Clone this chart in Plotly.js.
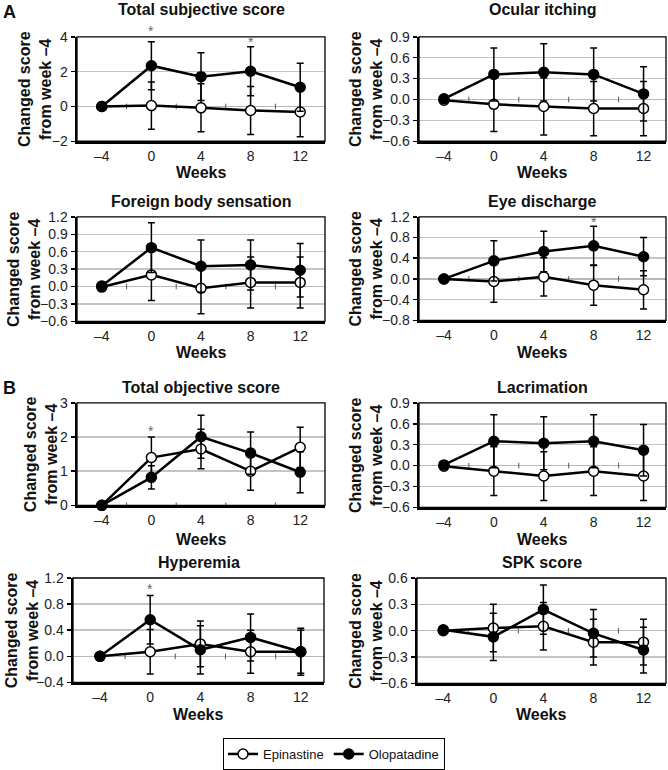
<!DOCTYPE html>
<html>
<head>
<meta charset="utf-8">
<script src="https://cdn.plot.ly/plotly-3.0.1.min.js"></script>
<style>
  html, body { margin: 0; padding: 0; background: #fff; }
  #chart { width: 668px; height: 770px; }
</style>
</head>
<body>
<div id="chart"></div>
<script>
// Weeks on the x axis (shared by all panels)
const weeks = [-4, 0, 4, 8, 12];
const weekLabels = ["\u20134", "0", "4", "8", "12"];

// Mean change from week -4 and error bars
const subjEpi = [0, 0.05, -0.08, -0.23, -0.32];
const subjEpiErr = [0, 1.36, 1.38, 1.38, 1.42];
const subjOlo = [0, 2.34, 1.71, 2.02, 1.10];
const subjOloErr = [0, 1.38, 1.37, 1.41, 1.38];

const itchEpi = [-0.01, -0.07, -0.10, -0.13, -0.13];
const itchEpiErr = [0, 0.39, 0.41, 0.39, 0.39];
const itchOlo = [0.01, 0.36, 0.39, 0.36, 0.08];
const itchOloErr = [0, 0.38, 0.41, 0.38, 0.39];

const foreignEpi = [-0.01, 0.20, -0.03, 0.07, 0.07];
const foreignEpiErr = [0, 0.44, 0.44, 0.44, 0.44];
const foreignOlo = [0.01, 0.67, 0.35, 0.37, 0.28];
const foreignOloErr = [0, 0.43, 0.45, 0.43, 0.46];

const dischEpi = [0, -0.05, 0.04, -0.12, -0.21];
const dischEpiErr = [0, 0.40, 0.37, 0.39, 0.37];
const dischOlo = [0, 0.35, 0.53, 0.64, 0.43];
const dischOloErr = [0, 0.39, 0.39, 0.38, 0.37];

const objEpi = [0, 1.40, 1.65, 1.00, 1.70];
const objEpiErr = [0, 0.60, 0.58, 0.56, 0.59];
const objOlo = [0, 0.82, 2.01, 1.53, 0.97];
const objOloErr = [0, 0.34, 0.63, 0.62, 0.60];

const lacrEpi = [-0.01, -0.08, -0.15, -0.08, -0.15];
const lacrEpiErr = [0, 0.35, 0.35, 0.35, 0.35];
const lacrOlo = [0.01, 0.35, 0.32, 0.35, 0.22];
const lacrOloErr = [0, 0.38, 0.38, 0.38, 0.37];

const hypEpi = [0, 0.07, 0.19, 0.07, 0.07];
const hypEpiErr = [0, 0.34, 0.35, 0.33, 0.33];
const hypOlo = [0, 0.56, 0.10, 0.29, 0.07];
const hypOloErr = [0, 0.37, 0.37, 0.36, 0.36];

const spkEpi = [0, 0.03, 0.05, -0.13, -0.13];
const spkEpiErr = [0, 0.27, 0.27, 0.26, 0.26];
const spkOlo = [0.01, -0.07, 0.24, -0.03, -0.22];
const spkOloErr = [0, 0.27, 0.28, 0.27, 0.26];

// weeks marked with * (significant difference)
const subjSig = [0, 8];
const dischSig = [8];
const objSig = [0];
const hypSig = [0];

const W = 668, H = 770;
const FONT = "Liberation Sans, Arial, sans-serif";

// pixel boxes of each plot area, plus text positions
const panels = [
  { title: "Total subjective score", epi: subjEpi, epiErr: subjEpiErr, olo: subjOlo, oloErr: subjOloErr, sig: subjSig, lift: [11, 4.5],
    box: [77, 325, 37, 142], xr: [-6, 14], yr: [-2, 4], dt: 2, fmt: "d", titleY: 10, weeksY: 173, ytX: 35 },
  { title: "Ocular itching", epi: itchEpi, epiErr: itchEpiErr, olo: itchOlo, oloErr: itchOloErr, sig: [], lift: [],
    box: [419, 666, 37, 142], xr: [-6, 13.8], yr: [-0.6, 0.9], dt: 0.3, fmt: ".1f", titleY: 10, weeksY: 173, ytX: 366 },
  { title: "Foreign body sensation", epi: foreignEpi, epiErr: foreignEpiErr, olo: foreignOlo, oloErr: foreignOloErr, sig: [], lift: [],
    box: [77, 325, 218, 323], xr: [-6, 14], yr: [-0.6, 1.2], dt: 0.3, fmt: ".1f", titleY: 203, weeksY: 354, ytX: 24 },
  { title: "Eye discharge", epi: dischEpi, epiErr: dischEpiErr, olo: dischOlo, oloErr: dischOloErr, sig: dischSig, lift: [4],
    box: [419, 666, 218, 322], xr: [-6, 13.8], yr: [-0.8, 1.2], dt: 0.4, fmt: ".1f", titleY: 203, weeksY: 354, ytX: 366 },
  { title: "Total objective score", epi: objEpi, epiErr: objEpiErr, olo: objOlo, oloErr: objOloErr, sig: objSig, lift: [6],
    box: [77, 325, 405, 508], xr: [-6, 14], yr: [0, 3], dt: 1, fmt: "d", titleY: 390, weeksY: 542, ytX: 41 },
  { title: "Lacrimation", epi: lacrEpi, epiErr: lacrEpiErr, olo: lacrOlo, oloErr: lacrOloErr, sig: [], lift: [],
    box: [419, 666, 405, 510], xr: [-6, 13.8], yr: [-0.6, 0.9], dt: 0.3, fmt: ".1f", titleY: 390, weeksY: 542, ytX: 366 },
  { title: "Hyperemia", epi: hypEpi, epiErr: hypEpiErr, olo: hypOlo, oloErr: hypOloErr, sig: hypSig, lift: [6.5],
    box: [73, 324, 581, 686], xr: [-6.15, 13.85], yr: [-0.4, 1.2], dt: 0.4, fmt: ".1f", titleY: 565, weeksY: 718, ytX: 22 },
  { title: "SPK score", epi: spkEpi, epiErr: spkEpiErr, olo: spkOlo, oloErr: spkOloErr, sig: [], lift: [],
    box: [417, 666, 581, 687], xr: [-6.1, 13.8], yr: [-0.6, 0.6], dt: 0.3, fmt: ".1f", titleY: 565, weeksY: 718, ytX: 366 }
];

// tick marks between categories on the zero line
const midWeeks = weeks.slice(0, -1).map((w, i) => (w + weeks[i + 1]) / 2);

const traces = [];
const annotations = [];
const shapes = [];
const layout = {
  width: W, height: H,
  margin: { l: 0, r: 0, t: 0, b: 0 },
  paper_bgcolor: "#fff", plot_bgcolor: "#fff",
  font: { family: FONT, color: "#111", size: 14 },
  showlegend: true,
  legend: {
    orientation: "h", x: 0.5, xanchor: "center", y: 1 - 758 / H, yanchor: "middle",
    bordercolor: "#000", borderwidth: 1, bgcolor: "#fff",
    font: { family: FONT, size: 13, color: "#111" },
    itemwidth: 30, tracegroupgap: 0
  },
  annotations: annotations,
  shapes: shapes
};

panels.forEach((p, i) => {
  const n = i === 0 ? "" : String(i + 1);
  const xa = "x" + n, ya = "y" + n;
  const [l, r, t, b] = p.box;

  layout["xaxis" + n] = {
    domain: [l / W, r / W], range: p.xr, anchor: ya,
    tickvals: weeks, ticktext: weekLabels, ticks: "",
    showgrid: false, zeroline: false,
    showline: true, linecolor: "#000", linewidth: 2.5,
    tickfont: { family: FONT, size: 14, color: "#222" }, fixedrange: true
  };
  layout["yaxis" + n] = {
    domain: [1 - b / H, 1 - t / H], range: p.yr, anchor: xa,
    dtick: p.dt, tick0: 0, tickformat: p.fmt,
    ticks: "outside", ticklen: 4, tickwidth: 1.5, tickcolor: "#000",
    showgrid: true, gridcolor: "#c4c4c4", gridwidth: 1.5,
    zeroline: true, zerolinecolor: "#b8b8b8", zerolinewidth: 1.5,
    showline: true, linecolor: "#000", linewidth: 2.5,
    tickfont: { family: FONT, size: 14, color: "#222" }, fixedrange: true
  };

  // thin border on top and right
  shapes.push({
    type: "rect", xref: xa + " domain", yref: ya + " domain",
    x0: 0, x1: 1, y0: 0, y1: 1, line: { color: "#000", width: 1.3 }, layer: "above"
  });

  traces.push({
    x: midWeeks, y: midWeeks.map(() => 0), xaxis: xa, yaxis: ya,
    type: "scatter", mode: "markers", showlegend: false, hoverinfo: "skip",
    marker: { symbol: "line-ns", size: 4, line: { color: "#555", width: 1 } }
  });

  const common = {
    x: weeks, xaxis: xa, yaxis: ya, type: "scatter", mode: "lines+markers",
    line: { color: "#000", width: 2.5 }, cliponaxis: false, hoverinfo: "skip"
  };
  traces.push(Object.assign({}, common, {
    name: "Epinastine", y: p.epi, legendgroup: "epi", showlegend: i === 0,
    error_y: { type: "data", array: p.epiErr, visible: true, color: "#000", thickness: 1.5, width: 3.5 },
    marker: { symbol: "circle", size: 10, color: "#fff", line: { color: "#000", width: 1.5 } }
  }));
  traces.push(Object.assign({}, common, {
    name: "Olopatadine", y: p.olo, legendgroup: "olo", showlegend: i === 0,
    error_y: { type: "data", array: p.oloErr, visible: true, color: "#000", thickness: 1.5, width: 3.5 },
    marker: { symbol: "circle", size: 10, color: "#000", line: { color: "#000", width: 1.5 } }
  }));

  const cx = (l + r) / 2 / W;
  annotations.push({
    xref: "paper", yref: "paper", x: cx, y: 1 - p.titleY / H,
    text: "<b>" + p.title + "</b>", showarrow: false, xanchor: "center", yanchor: "middle",
    font: { family: FONT, size: 16, color: "#111" }
  });
  annotations.push({
    xref: "paper", yref: "paper", x: cx, y: 1 - p.weeksY / H,
    text: "<b>Weeks</b>", showarrow: false, xanchor: "center", yanchor: "middle",
    font: { family: FONT, size: 16, color: "#111" }
  });
  annotations.push({
    xref: "paper", yref: "paper", x: p.ytX / W, y: 1 - (t + b) / 2 / H,
    text: "<b>Changed score<br>from week \u20134</b>", textangle: -90, showarrow: false,
    xanchor: "center", yanchor: "middle",
    font: { family: FONT, size: 16, color: "#111" }
  });

  // asterisks above the highest error bar at that week
  p.sig.forEach((w, j) => {
    const k = weeks.indexOf(w);
    const top = Math.max(p.epi[k] + p.epiErr[k], p.olo[k] + p.oloErr[k]);
    annotations.push({
      xref: xa, yref: ya, x: w, y: top, text: "*", showarrow: false,
      xanchor: "center", yanchor: "middle", yshift: p.lift[j],
      font: { family: FONT, size: 14, color: "#666" }
    });
  });
});

// panel letters
annotations.push({ xref: "paper", yref: "paper", x: 9 / W, y: 1, text: "<b>A</b>",
  showarrow: false, xanchor: "center", yanchor: "top", font: { family: FONT, size: 18, color: "#111" } });
annotations.push({ xref: "paper", yref: "paper", x: 9 / W, y: 1 - 378 / H, text: "<b>B</b>",
  showarrow: false, xanchor: "center", yanchor: "top", font: { family: FONT, size: 18, color: "#111" } });

Plotly.newPlot("chart", traces, layout, { staticPlot: true, displayModeBar: false });
</script>
</body>
</html>
